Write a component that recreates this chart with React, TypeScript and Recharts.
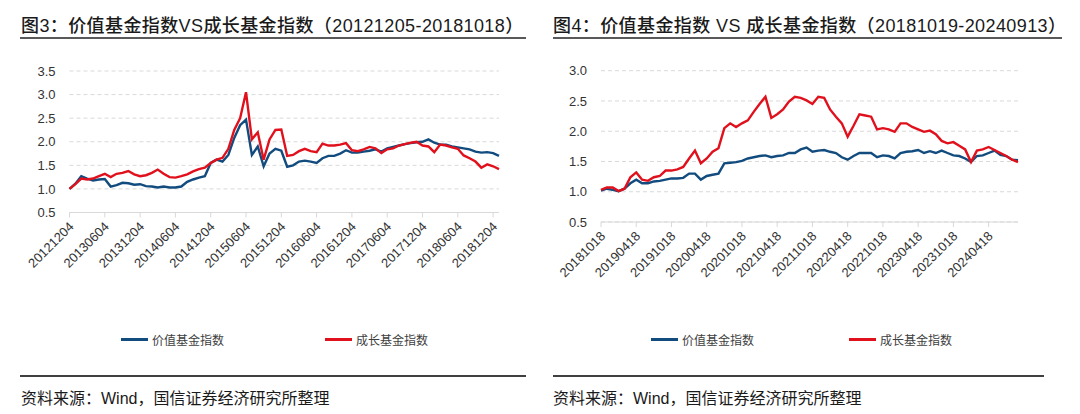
import React from "react";
import { LineChart, Line, XAxis, YAxis, CartesianGrid, Legend } from "recharts";

// 图3 数据：按月取值（2012-12 至 2018-12）
const leftValue = [
  1.0, 1.11, 1.27, 1.22, 1.18, 1.2, 1.21, 1.05, 1.08, 1.13,
  1.12, 1.09, 1.1, 1.06, 1.05, 1.03, 1.05, 1.03, 1.03, 1.05,
  1.15, 1.2, 1.24, 1.27, 1.55, 1.62, 1.58, 1.72, 2.08, 2.35,
  2.47, 1.72, 1.9, 1.48, 1.75, 1.85, 1.81, 1.47, 1.5, 1.58,
  1.6, 1.58, 1.55, 1.65, 1.7, 1.7, 1.75, 1.82, 1.77, 1.77,
  1.79, 1.81, 1.84, 1.79, 1.86, 1.89, 1.92, 1.95, 1.97, 1.99,
  2.0, 2.05, 1.98, 1.94, 1.94, 1.9, 1.88, 1.86, 1.84, 1.79,
  1.77, 1.78, 1.76, 1.7,
];
const leftGrowth = [
  1.0, 1.1, 1.22, 1.2, 1.22, 1.27, 1.32, 1.25, 1.32, 1.34,
  1.38, 1.31, 1.27, 1.29, 1.34, 1.41, 1.32, 1.25, 1.24, 1.27,
  1.31, 1.37, 1.42, 1.45, 1.55, 1.62, 1.66, 1.85, 2.25, 2.5,
  3.05, 2.05, 2.2, 1.62, 2.05, 2.25, 2.26, 1.7, 1.72, 1.8,
  1.85, 1.8, 1.78, 1.96, 1.92, 1.92, 1.94, 1.97, 1.82, 1.8,
  1.84, 1.89, 1.86, 1.76, 1.84, 1.86, 1.92, 1.95, 1.98, 2.0,
  1.92, 1.9, 1.78, 1.94, 1.92, 1.88, 1.85, 1.71, 1.65, 1.58,
  1.45, 1.52, 1.48, 1.42,
];
const leftTickLabels = [
  "20121204", "20130604", "20131204", "20140604", "20141204", "20150604", "20151204",
  "20160604", "20161204", "20170604", "20171204", "20180604", "20181204",
];

// 图4 数据：按月取值（2018-10 至 2024-09）
const rightValue = [
  1.02, 1.05, 1.03, 1.01, 1.05, 1.14, 1.2, 1.14, 1.14, 1.17,
  1.18, 1.2, 1.22, 1.22, 1.23, 1.3, 1.3, 1.2, 1.26, 1.28,
  1.3, 1.47, 1.48, 1.49, 1.51, 1.55, 1.57, 1.59, 1.6, 1.57,
  1.59, 1.6, 1.64, 1.64, 1.7, 1.73, 1.66, 1.68, 1.69, 1.66,
  1.64, 1.57, 1.53, 1.59, 1.64, 1.64, 1.64, 1.57, 1.6, 1.59,
  1.55, 1.64, 1.66, 1.67, 1.69, 1.64, 1.67, 1.64, 1.68, 1.64,
  1.6, 1.59, 1.55, 1.49, 1.59, 1.6, 1.64, 1.68, 1.61, 1.59,
  1.53, 1.52,
];
const rightGrowth = [
  1.03, 1.07, 1.07, 1.01, 1.05, 1.24, 1.32, 1.2, 1.18, 1.24,
  1.26, 1.35, 1.35, 1.37, 1.41, 1.55, 1.68, 1.47, 1.55, 1.66,
  1.72, 2.05, 2.13, 2.07, 2.13, 2.18, 2.32, 2.45, 2.57, 2.22,
  2.28, 2.36, 2.49, 2.57, 2.55, 2.51, 2.45, 2.57, 2.55, 2.36,
  2.24, 2.13, 1.91, 2.09, 2.28, 2.26, 2.24, 2.03, 2.05, 2.03,
  1.99, 2.13, 2.13, 2.07, 2.03, 1.99, 2.01, 1.95, 1.84, 1.8,
  1.82, 1.76, 1.7, 1.49, 1.68, 1.7, 1.74, 1.69, 1.64, 1.59,
  1.53, 1.49,
];
const rightTickLabels = [
  "20181018", "20190418", "20191018", "20200418", "20201018", "20210418",
  "20211018", "20220418", "20221018", "20230418", "20231018", "20240418",
];

const leftYTicks = [0.5, 1.0, 1.5, 2.0, 2.5, 3.0, 3.5];
const rightYTicks = [0.5, 1.0, 1.5, 2.0, 2.5, 3.0];

const BLUE = "#124c7f";
const RED = "#e0101c";
const LATIN = "'Liberation Sans', Arial, 'Noto Sans CJK SC', sans-serif";

function buildRows(value: number[], growth: number[]) {
  return value.map((v, i) => ({ i, value: v, growth: growth[i] }));
}

const AngledTick = (props: any) => {
  const { x, y, payload, labels } = props;
  const label = labels[Math.round(payload.value / 6)];
  const tx = x + 5;
  const ty = y + 8;
  return (
    <text x={tx} y={ty} transform={`rotate(-45 ${tx} ${ty})`} textAnchor="end" fontSize={13} fill="#333" fontFamily={LATIN}>
      {label}
    </text>
  );
};

type PanelProps = {
  left: number;
  title: string;
  value: number[];
  growth: number[];
  tickLabels: string[];
  yTicks: number[];
  margin: { top: number; right: number; bottom: number; left: number };
  legendAt: [number, number];
  lineEnd: number;
  footEnd: number;
};

function Panel(p: PanelProps) {
  const rows = buildRows(p.value, p.growth);
  const ticks = p.tickLabels.map((_, k) => k * 6);
  const renderLegend = () => (
    <div style={{ position: "relative", height: 20, fontFamily: "'Noto Sans CJK SC', serif", fontSize: 12, color: "#404040" }}>
      {[
        { name: "价值基金指数", color: BLUE, at: p.legendAt[0] },
        { name: "成长基金指数", color: RED, at: p.legendAt[1] },
      ].map((it) => (
        <div key={it.name} style={{ position: "absolute", left: it.at, top: 0, display: "flex", alignItems: "center" }}>
          <span style={{ display: "inline-block", width: 27, height: 3, background: it.color, marginRight: 4 }} />
          <span>{it.name}</span>
        </div>
      ))}
    </div>
  );
  return (
    <div style={{ position: "absolute", left: p.left, top: 0, width: 540, height: 414 }}>
      <div style={{ position: "absolute", left: 21 + (p.left ? -8 : 0), top: 11, fontSize: 18, fontWeight: 500, letterSpacing: 0.4, color: "#1a1a1a", fontFamily: LATIN, whiteSpace: "nowrap" }}>
        {p.title}
      </div>
      <div style={{ position: "absolute", left: p.left ? 13 : 20, top: 37, width: p.lineEnd, height: 2, background: "#595959" }} />
      <div style={{ position: "absolute", left: 0, top: 0 }}>
        <LineChart width={540} height={340} data={rows} margin={p.margin}>
          <CartesianGrid vertical={false} stroke="#d9d9d9" strokeDasharray="4 3" />
          <XAxis
            dataKey="i"
            type="number"
            domain={[0, rows.length - 1]}
            ticks={ticks}
            interval={0}
            stroke="#d9d9d9"
            tickSize={5}
            tick={<AngledTick labels={p.tickLabels} />}
          />
          <YAxis
            domain={[p.yTicks[0], p.yTicks[p.yTicks.length - 1]]}
            ticks={p.yTicks}
            width={60}
            axisLine={false}
            tickLine={false}
            tickSize={0}
            tickMargin={14}
            tick={{ fontSize: 13, fill: "#333", fontFamily: LATIN }}
            tickFormatter={(v: number) => v.toFixed(1)}
          />
          <Legend content={renderLegend} wrapperStyle={{ left: 0, top: 331, width: 540 }} />
          <Line dataKey="value" name="价值基金指数" stroke={BLUE} strokeWidth={2.4} dot={false} isAnimationActive={false} />
          <Line dataKey="growth" name="成长基金指数" stroke={RED} strokeWidth={2.4} dot={false} isAnimationActive={false} />
        </LineChart>
      </div>
      <div style={{ position: "absolute", left: p.left ? 13 : 20, top: 375, width: p.footEnd, height: 2, background: "#404040" }} />
      <div style={{ position: "absolute", left: p.left ? 13 : 21, top: 385, fontSize: 16, color: "#1a1a1a", fontFamily: LATIN, whiteSpace: "nowrap" }}>
        资料来源：Wind，国信证券经济研究所整理
      </div>
    </div>
  );
}

export default function App() {
  return (
    <div style={{ position: "absolute", left: 0, top: 0, width: 1080, height: 414, background: "#fff", overflow: "hidden" }}>
      <Panel
        left={0}
        title="图3：价值基金指数VS成长基金指数（20121205-20181018）"
        value={leftValue}
        growth={leftGrowth}
        tickLabels={leftTickLabels}
        yTicks={leftYTicks}
        margin={{ top: 71, right: 41, bottom: 77.5, left: 9.5 }}
        legendAt={[121, 325]}
        lineEnd={506}
        footEnd={506}
      />
      <Panel
        left={540}
        title="图4：价值基金指数 VS 成长基金指数（20181019-20240913）"
        value={rightValue}
        growth={rightGrowth}
        tickLabels={rightTickLabels}
        yTicks={rightYTicks}
        margin={{ top: 70.7, right: 62, bottom: 68, left: 1 }}
        legendAt={[111, 309]}
        lineEnd={509}
        footEnd={491}
      />
    </div>
  );
}
